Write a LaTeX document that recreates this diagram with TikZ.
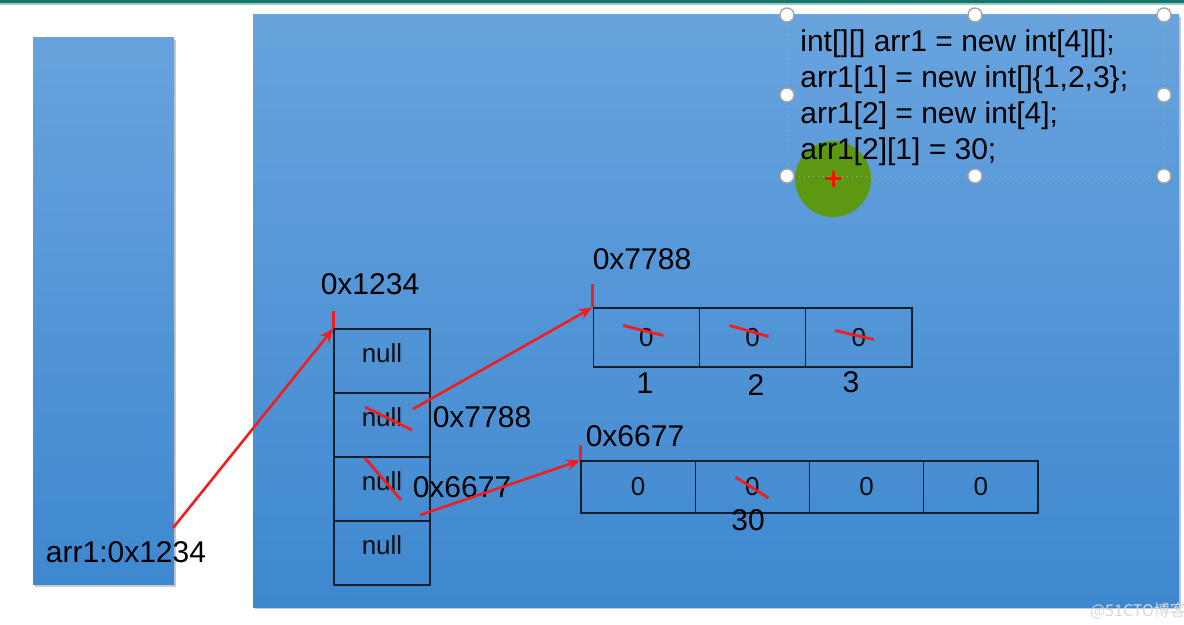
\documentclass[tikz,border=0pt]{standalone}
\usepackage{fontspec}
\setmainfont{Liberation Sans}
\newfontfamily\cjkfont{Noto Sans CJK SC}
\usetikzlibrary{arrows.meta,shadows}
\definecolor{bluetop}{RGB}{104,163,221}
\definecolor{bluebot}{RGB}{62,136,208}
\definecolor{teal}{RGB}{18,118,106}
\definecolor{strike}{RGB}{240,30,30}
\definecolor{celledge}{RGB}{20,30,45}
\definecolor{greenspot}{RGB}{92,152,18}
\tikzset{
  panel/.style={top color=bluetop,bottom color=bluebot,draw=none,
    drop shadow={shadow xshift=1.2pt,shadow yshift=-1.2pt,opacity=0.35,fill=black!60}},
  cellbox/.style={draw=celledge,line width=0.6pt,inner sep=0pt},
  nullcell/.style={cellbox,minimum width=48pt,minimum height=32pt},
  upcell/.style={cellbox,minimum width=53.15pt,minimum height=29.5pt},
  lowcell/.style={cellbox,minimum width=57.1pt,minimum height=26pt},
  lbl/.style={font=\fontsize{15pt}{18pt}\selectfont,text=black,inner sep=0pt},
  small/.style={font=\fontsize{13pt}{15pt}\selectfont,text=black!95,inner sep=0pt},
  redarrow/.style={draw=strike,line width=1.3pt,-{Stealth[length=7pt,width=5.5pt]}},
  redline/.style={draw=strike,line width=1.4pt},
  handle/.style={circle,draw=black!35,fill=white,line width=0.7pt,minimum size=7pt,inner sep=0pt},
}
\begin{document}
\begin{tikzpicture}[x=0.5pt,y=-0.5pt]
\useasboundingbox (0,0) rectangle (1184,625);
\fill[white] (0,0) rectangle (1184,625);
\fill[teal] (0,0) rectangle (1184,3);
\fill[teal!40] (0,3) rectangle (1184,5);
% panels
\path[panel] (33,38) rectangle (174,585);
\path[panel] (253,15) rectangle (1179,607);
% selection box with code
\fill[greenspot] (833,179) circle (38);
\draw[black!35,line width=0.4pt,dotted] (787,15) rectangle (1164,176);
\foreach \p/\n in {{(787,15)}/h1,{(975,15)}/h2,{(1164,15)}/h3,{(787,95)}/h4,{(1164,95)}/h5,{(787,176)}/h6,{(975,176)}/h7,{(1164,176)}/h8}
  \node[handle] (\n) at \p {};
\draw[red!90!orange,line width=1.5pt] (825,179) -- (841,179) (833,171) -- (833,187);
\node[lbl,anchor=base west] (code1) at (800,52) {int[][] arr1 = new int[4][];};
\node[lbl,anchor=base west] (code2) at (800,88) {arr1[1] = new int[]\{1,2,3\};};
\node[lbl,anchor=base west] (code3) at (800,124) {arr1[2] = new int[4];};
\node[lbl,anchor=base west] (code4) at (800,160) {arr1[2][1] = 30;};
% stack label
\node[lbl] (stacklbl) at (126,552) {arr1:0x1234};
\coordinate (stacktail) at (173,528);
% null column
\foreach \i/\y in {0/361,1/425,2/489,3/553}{
  \node[nullcell] (c\i) at (382,\y) {};
  \node[small] (n\i) at ([yshift=4pt]c\i.center) {null};
}
\node[lbl] (addr1234) at (370,284) {0x1234};
\draw[redline,line width=1.2pt] (c0.north west) -- ++(0,-17);
\draw[redarrow] (stacktail) -- (c0.north west);
% upper array
\foreach \i/\x in {1/646.3,2/752.5,3/858.8}{
  \node[upcell] (u\i) at (\x,337.5) {};
  \node[small] (uz\i) at (u\i.center) {0};
}
\node[lbl] (idx1) at (645,383) {1};
\node[lbl] (idx2) at (756,385) {2};
\node[lbl] (idx3) at (851,382) {3};
\node[lbl] (addr7788) at (642,259) {0x7788};
\draw[redline,line width=1.2pt] (u1.north west) -- ++(0,-23);
\draw[redline] ([shift={(-23,-12)}]uz1.center) -- ([shift={(17,-2)}]uz1.center);
\draw[redline] ([shift={(-23,-12)}]uz2.center) -- ([shift={(16,-1)}]uz2.center);
\draw[redline] ([shift={(-24,-7)}]uz3.center) -- ([shift={(15,2)}]uz3.center);
% lower array
\foreach \i/\x in {1/638.1,2/752.4,3/866.6,4/980.9}{
  \node[lowcell] (l\i) at (\x,487) {};
  \node[small] (lz\i) at (l\i.center) {0};
}
\node[lbl] (thirty) at (748,520) {30};
\node[lbl] (addr6677) at (635,436) {0x6677};
\draw[redline,line width=1.2pt] (l1.north west) -- ++(0,-15);
\draw[redline] ([shift={(-17,-10)}]lz2.center) -- ([shift={(16,11)}]lz2.center);
% references from null column
\draw[redline] (365,407) -- (412,430);
\draw[redline] (365,458) -- (401,500);
\node[lbl] (ref7788) at (482,417) {0x7788};
\node[lbl] (ref6677) at (462,487) {0x6677};
\coordinate (tail2) at (413,409);
\coordinate (tail3) at (420,515);
\draw[redarrow] (tail2) -- (u1.north west);
\draw[redarrow] (tail3) -- (l1.north west);
% watermark
\node[font=\cjkfont\fontsize{8pt}{9pt}\selectfont,text=black!15,inner sep=0pt] (wm) at (1138,611) {@51CTO博客};
\end{tikzpicture}
\end{document}
